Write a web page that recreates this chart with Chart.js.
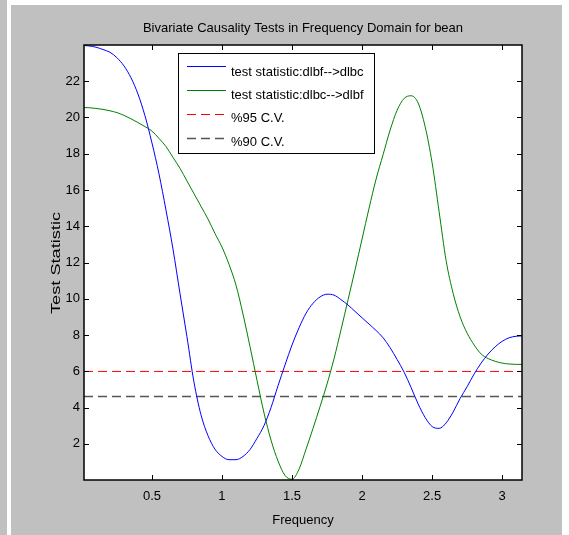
<!DOCTYPE html>
<html>
<head>
<meta charset="utf-8">
<script src="https://cdn.jsdelivr.net/npm/chart.js@4"></script>
<style>
  html, body { margin: 0; padding: 0; background: #fff; }
  canvas { display: block; }
</style>
</head>
<body>
<canvas id="chart" width="569" height="535"></canvas>
<script>
const chartTitle = 'Bivariate Causality Tests in Frequency Domain for bean';
const xLabel = 'Frequency';
const yLabel = 'Test Statistic';
const seriesLabels = ['test statistic:dlbf-->dlbc', 'test statistic:dlbc-->dlbf', '%95 C.V.', '%90 C.V.'];

const freq = [0.015, 0.05, 0.10, 0.15, 0.20, 0.25, 0.30, 0.35, 0.40, 0.45, 0.50, 0.55, 0.60, 0.65, 0.70, 0.75,
  0.80, 0.85, 0.90, 0.95, 1.00, 1.05, 1.10, 1.15, 1.20, 1.25, 1.30, 1.35, 1.40, 1.45, 1.50, 1.55,
  1.60, 1.65, 1.70, 1.75, 1.80, 1.85, 1.90, 1.95, 2.00, 2.05, 2.10, 2.15, 2.20, 2.25, 2.30, 2.35,
  2.40, 2.45, 2.50, 2.55, 2.60, 2.65, 2.70, 2.75, 2.80, 2.85, 2.90, 2.95, 3.00, 3.05, 3.10, 3.1416];

const dlbfToDlbc = [23.97, 23.95, 23.88, 23.75, 23.6, 23.3, 22.85, 22.2, 21.3, 20.1, 18.6, 16.9, 14.9, 12.75, 10.3, 7.9,
  5.4, 3.6, 2.45, 1.7, 1.3, 1.12, 1.12, 1.3, 1.68, 2.3, 3.0, 4.0, 5.2, 6.35, 7.45, 8.4,
  9.2, 9.75, 10.1, 10.25, 10.2, 9.95, 9.65, 9.3, 8.95, 8.6, 8.25, 7.85, 7.3, 6.65, 5.95, 5.1,
  4.2, 3.45, 2.95, 2.85, 3.15, 3.75, 4.5, 5.15, 5.85, 6.45, 6.95, 7.35, 7.65, 7.85, 7.93, 7.95];

const dlbcToDlbf = [20.55, 20.54, 20.5, 20.45, 20.37, 20.27, 20.12, 19.93, 19.72, 19.5, 19.25, 18.85, 18.4, 17.8, 17.2, 16.5,
  15.8, 15.1, 14.4, 13.6, 12.85, 11.9, 10.75, 9.15, 7.36, 5.5, 3.7, 2.2, 1.05, 0.25, 0.04, 0.6,
  1.7, 2.85, 4.05, 5.3, 6.7, 8.3, 9.95, 11.6, 13.3, 15.0, 16.6, 17.95, 19.3, 20.4, 21.05, 21.2,
  20.8, 19.5, 17.5, 14.8, 12.1, 10.3, 9.0, 8.1, 7.45, 6.95, 6.7, 6.55, 6.45, 6.4, 6.38, 6.38];

const cv95 = 5.99;
const cv90 = 4.61;

const xTicks = [0.5, 1, 1.5, 2, 2.5, 3];
const yTicks = [2, 4, 6, 8, 10, 12, 14, 16, 18, 20, 22];

const FONT = "'Liberation Sans', Arial, Helvetica, sans-serif";
Chart.defaults.font.family = FONT;
Chart.defaults.font.size = 13;
Chart.defaults.color = '#000';

const toPoints = ys => ys.map((y, i) => ({ x: freq[i], y }));
const flatLine = v => [{ x: freq[0], y: v }, { x: freq[freq.length - 1], y: v }];

// grey figure background, inward ticks and box like matlab
const matlabAxes = {
  id: 'matlabAxes',
  beforeDraw(chart) {
    const { ctx, chartArea: { left, top, width, height } } = chart;
    ctx.save();
    ctx.fillStyle = '#fff';
    ctx.fillRect(0, 0, chart.width, chart.height);
    ctx.fillStyle = '#c0c0c0';
    ctx.fillRect(0, 0, 7, chart.height);
    ctx.fillRect(11, 5, 551, chart.height - 5);
    ctx.fillStyle = '#fff';
    ctx.fillRect(left, top, width, height);
    ctx.restore();
  },
  afterDatasetsDraw(chart) {
    const { ctx, chartArea: { left, top, right, bottom }, scales: { x, y } } = chart;
    const len = 5;
    ctx.save();
    ctx.strokeStyle = '#000';
    ctx.lineWidth = 1;
    ctx.beginPath();
    x.ticks.forEach(t => {
      const px = Math.round(x.getPixelForValue(t.value)) + 0.5;
      ctx.moveTo(px, bottom); ctx.lineTo(px, bottom - len);
      ctx.moveTo(px, top); ctx.lineTo(px, top + len);
    });
    y.ticks.forEach(t => {
      const py = Math.round(y.getPixelForValue(t.value)) + 0.5;
      ctx.moveTo(left, py); ctx.lineTo(left + len, py);
      ctx.moveTo(right, py); ctx.lineTo(right - len, py);
    });
    ctx.stroke();
    ctx.lineWidth = 1.5;
    ctx.strokeRect(left, top, right - left, bottom - top);
    ctx.restore();
  },
  afterDraw(chart, args, opts) {
    const { ctx } = chart;
    ctx.save();
    ctx.font = '12px ' + FONT;
    ctx.fillStyle = '#000';
    ctx.textAlign = 'center';
    ctx.textBaseline = 'middle';
    const w = ctx.measureText(opts.yTitle).width;
    ctx.translate(opts.yTitleX, opts.yTitleY);
    ctx.rotate(-Math.PI / 2);
    ctx.scale(opts.yTitleLength / w, 1);
    ctx.fillText(opts.yTitle, 0, 0);
    ctx.restore();
  }
};

const boxLegend = {
  id: 'boxLegend',
  afterDatasetsDraw(chart, args, opts) {
    const { ctx } = chart;
    ctx.save();
    ctx.fillStyle = '#fff';
    ctx.fillRect(opts.left, opts.top, opts.width, opts.height);
    ctx.strokeStyle = '#000';
    ctx.lineWidth = 1;
    ctx.strokeRect(opts.left + 0.5, opts.top + 0.5, opts.width, opts.height);
    ctx.font = '13px ' + FONT;
    ctx.textBaseline = 'alphabetic';
    chart.data.datasets.forEach((ds, i) => {
      const ly = opts.top + 13 + i * 24;
      ctx.strokeStyle = ds.borderColor;
      ctx.lineWidth = ds.borderWidth;
      ctx.setLineDash(ds.borderDash || []);
      ctx.beginPath();
      ctx.moveTo(opts.left + 9, ly + 0.5);
      ctx.lineTo(opts.left + 48, ly + 0.5);
      ctx.stroke();
      ctx.setLineDash([]);
      ctx.fillStyle = '#000';
      ctx.fillText(ds.label, opts.left + 53, opts.top + 23 + i * 23.2);
    });
    ctx.restore();
  }
};

new Chart(document.getElementById('chart'), {
  type: 'line',
  plugins: [matlabAxes, boxLegend],
  data: {
    datasets: [
      { label: seriesLabels[0], data: toPoints(dlbfToDlbc), borderColor: '#0000ff', borderWidth: 1, pointRadius: 0, cubicInterpolationMode: 'monotone' },
      { label: seriesLabels[1], data: toPoints(dlbcToDlbf), borderColor: '#008000', borderWidth: 1, pointRadius: 0, cubicInterpolationMode: 'monotone' },
      { label: seriesLabels[2], data: flatLine(cv95), borderColor: '#ff0000', borderWidth: 1, borderDash: [9, 5], pointRadius: 0 },
      { label: seriesLabels[3], data: flatLine(cv90), borderColor: '#555555', borderWidth: 1.6, borderDash: [9, 5], pointRadius: 0 }
    ]
  },
  options: {
    responsive: false,
    animation: false,
    devicePixelRatio: 1,
    layout: { padding: { left: 0, right: 47, top: 0, bottom: 0 } },
    plugins: {
      legend: { display: false },
      tooltip: { enabled: false },
      title: {
        display: true,
        fullSize: false,
        text: chartTitle,
        color: '#000',
        font: { size: 13, weight: 'normal' },
        padding: { top: 21, bottom: 8.4 }
      },
      matlabAxes: { yTitle: yLabel, yTitleX: 56.5, yTitleY: 263, yTitleLength: 102 },
      boxLegend: { left: 178, top: 53, width: 196, height: 100 }
    },
    scales: {
      x: {
        type: 'linear',
        min: freq[0],
        max: freq[freq.length - 1],
        grid: { display: false, drawTicks: false },
        border: { display: false },
        ticks: { padding: 9, autoSkip: false, maxRotation: 0, callback: v => String(v) },
        title: { display: true, text: xLabel, padding: { top: 0, bottom: 7 } },
        afterBuildTicks: scale => { scale.ticks = xTicks.map(v => ({ value: v })); },
        afterFit: scale => { scale.height = 55; }
      },
      y: {
        min: 0,
        max: 24,
        grid: { display: false, drawTicks: false },
        border: { display: false },
        ticks: { padding: 4, autoSkip: false, callback: v => String(v) },
        afterBuildTicks: scale => { scale.ticks = yTicks.map(v => ({ value: v })); },
        afterFit: scale => { scale.width = 84; }
      }
    }
  }
});
</script>
</body>
</html>
